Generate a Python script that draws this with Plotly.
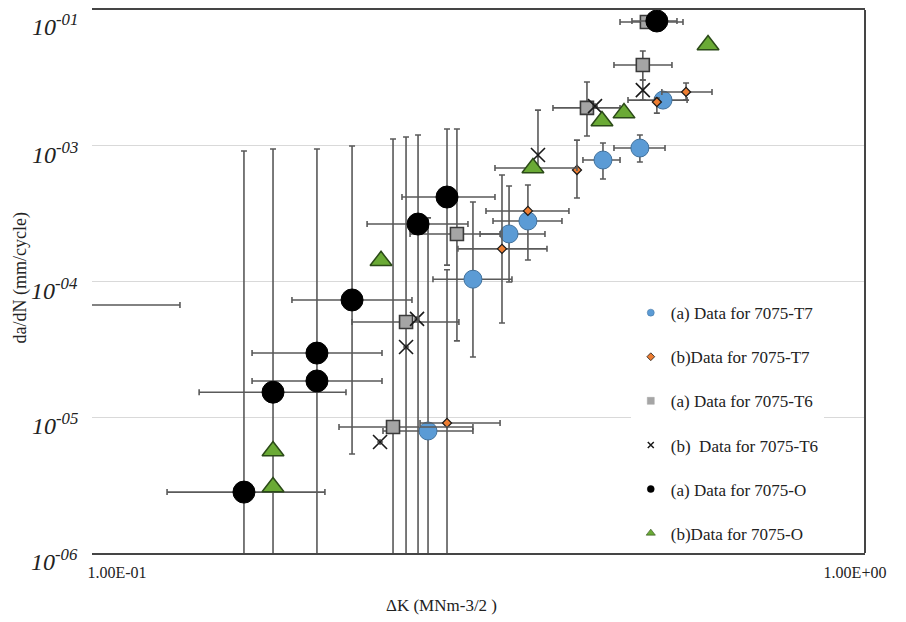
import math
import plotly.graph_objects as go

# ---------------- data ----------------
# (a) Data for 7075-T7
t7a_x    = [0.2639, 0.3036, 0.3398, 0.3604, 0.4555, 0.5111, 0.5494]
t7a_y    = [7.92e-6, 1.04e-4, 2.24e-4, 2.79e-4, 7.85e-4, 9.62e-4, 2.17e-3]
t7a_x_lo = [0.2293, 0.2680, 0.3104, 0.3232, 0.4279, 0.4714, 0.4925]
t7a_x_hi = [0.3036, 0.3429, 0.3801, 0.4008, 0.4804, 0.5528, 0.5922]
t7a_y_lo = [1e-7, 2.78e-5, 9.92e-5, 1.44e-4, 5.69e-4, 7.59e-4, None]
t7a_y_hi = [2.94e-4, 3.85e-4, 5.05e-4, 5.14e-4, 1.048e-3, 1.20e-3, None]

# (b) Data for 7075-T7
t7b_x    = [0.2800, 0.3324, 0.3604, 0.4200, 0.5389, 0.5903]
t7b_y    = [9.07e-6, 1.74e-4, 3.31e-4, 6.63e-4, 2.10e-3, 2.49e-3]
t7b_x_lo = [0.2574, 0.2897, 0.3162, None, None, 0.5474]
t7b_x_hi = [0.3304, 0.3825, 0.4096, None, None, 0.6401]
t7b_y_lo = [1e-7, 4.95e-5, None, 4.12e-4, 1.74e-3, 2.17e-3]
t7b_y_hi = [1.22e-4, 6.09e-4, None, 1.10e-3, 2.25e-3, 2.90e-3]

# (a) Data for 7075-T6
t6a_x    = [0.2366, 0.2464, 0.2888, 0.4333, 0.5158, 0.5224]
t6a_y    = [8.48e-6, 5.03e-5, 2.24e-4, 1.90e-3, 3.93e-3, 8.16e-3]
t6a_x_lo = [0.1999, 0.2082, 0.2495, 0.3897, 0.4714, 0.4804]
t6a_x_hi = [0.3036, 0.2906, 0.3304, 0.4804, 0.5649, 0.5847]
t6a_y_lo = [1e-7, 1e-7, 3.65e-5, 1.18e-3, 3.05e-3, None]
t6a_y_hi = [1.12e-3, 1.16e-3, 1.33e-3, 2.95e-3, 4.99e-3, None]

# (b) Data for 7075-T6
t6b_x    = [0.2272, 0.2464, 0.2550, 0.3719, 0.4443, 0.5158]
t6b_y    = [6.57e-6, 3.29e-5, 5.30e-5, 8.55e-4, 1.96e-3, 2.57e-3]
t6b_x_lo = [None] * 6
t6b_x_hi = [None] * 6
t6b_y_lo = [None, None, None, 6.86e-4, None, 2.17e-3]
t6b_y_hi = [None, None, None, 1.83e-3, None, 3.05e-3]

# (a) Data for 7075-O
oa_x    = [0.085, 0.1486, 0.1627, 0.1866, 0.1866, 0.2082, 0.2558, 0.2800, 0.5389]
oa_y    = [6.71e-5, 2.81e-6, 1.53e-5, 1.85e-5, 2.97e-5, 7.31e-5, 2.65e-4, 4.19e-4, 8.30e-3]
oa_x_lo = [0.085, 0.1169, 0.1292, 0.1524, 0.1524, 0.1726, 0.2182, 0.2433, 0.4986]
oa_x_hi = [0.1217, 0.1913, 0.2043, 0.2286, 0.2286, 0.2510, 0.2989, 0.3252, 0.5738]
oa_y_lo = [None, 1e-7, 1e-7, 1e-7, None, 5.36e-6, 1e-7, 1.32e-4, None]
oa_y_hi = [None, 9.15e-4, 9.46e-4, 9.46e-4, None, 9.96e-4, 1.20e-3, 1.33e-3, None]

# (b) Data for 7075-O
ob_x    = [0.1627, 0.1627, 0.2279, 0.3661, 0.4541, 0.4864, 0.6322]
ob_y    = [3.06e-6, 5.64e-6, 1.42e-4, 6.86e-4, 1.52e-3, 1.74e-3, 5.52e-3]
ob_x_lo = [None, None, None, 0.3252, None, None, None]
ob_x_hi = [None, None, None, 0.4200, None, None, None]
ob_y_lo = [None] * 7
ob_y_hi = [None] * 7

y_tickvals = [1e-6, 1e-5, 1e-4, 1e-3, 1e-2]
y_ticktext = ["10<sup>-06</sup>", "10<sup>-05</sup>", "10<sup>-04</sup>",
              "10<sup>-03</sup>", "10<sup>-01</sup>"]
x_tickvals = [0.1, 1.0]
x_ticktext = ["1.00E-01", "1.00E+00"]

series_names = ["(a) Data for 7075-T7", "(b)Data for 7075-T7", "(a) Data for 7075-T6",
                "(b)  Data for 7075-T6", "(a) Data for 7075-O", "(b)Data for 7075-O"]

# ---------------- helpers ----------------
def plus(v, hi):
    return [None if h is None else h - a for a, h in zip(v, hi)]

def minus(v, lo):
    return [None if l is None else a - l for a, l in zip(v, lo)]

ERR_COL = "#5a5a5a"

def err(v, lo, hi):
    return dict(type="data", symmetric=False, array=plus(v, hi), arrayminus=minus(v, lo),
                color=ERR_COL, thickness=1.6, width=3)

styles = [
    dict(symbol="circle", size=18, color="#5b9bd5", line=dict(color="#41719c", width=1)),
    dict(symbol="diamond", size=7, color="#ed7d31", line=dict(color="#1a1a1a", width=1.2)),
    dict(symbol="square", size=13, color="#a5a5a5", line=dict(color="#3a3a3a", width=1.6)),
    dict(symbol="x-thin-open", size=14, color="#1a1a1a", line=dict(color="#1a1a1a", width=1.6)),
    dict(symbol="circle", size=22, color="#000000", line=dict(color="#000000", width=1)),
    dict(symbol="triangle-up", size=19, color="#6aaa35", line=dict(color="#2b4a18", width=1.5)),
]
legend_styles = [
    dict(symbol="circle", size=7, color="#5b9bd5", line=dict(color="#41719c", width=0.5)),
    dict(symbol="diamond", size=6, color="#ed7d31", line=dict(color="#1a1a1a", width=0.8)),
    dict(symbol="square", size=7, color="#a5a5a5", line=dict(color="#a5a5a5", width=0.5)),
    dict(symbol="x-thin-open", size=6, color="#1a1a1a", line=dict(color="#1a1a1a", width=1.5)),
    dict(symbol="circle", size=7, color="#000000", line=dict(color="#000000", width=0.5)),
    dict(symbol="triangle-up", size=8, color="#6aaa35", line=dict(color="#2b4a18", width=0.6)),
]

data_sets = [
    (t7a_x, t7a_y, t7a_x_lo, t7a_x_hi, t7a_y_lo, t7a_y_hi),
    (t7b_x, t7b_y, t7b_x_lo, t7b_x_hi, t7b_y_lo, t7b_y_hi),
    (t6a_x, t6a_y, t6a_x_lo, t6a_x_hi, t6a_y_lo, t6a_y_hi),
    (t6b_x, t6b_y, t6b_x_lo, t6b_x_hi, t6b_y_lo, t6b_y_hi),
    (oa_x, oa_y, oa_x_lo, oa_x_hi, oa_y_lo, oa_y_hi),
    (ob_x, ob_y, ob_x_lo, ob_x_hi, ob_y_lo, ob_y_hi),
]

fig = go.Figure()
for name, (x, y, xl, xh, yl, yh), st in zip(series_names, data_sets, styles):
    fig.add_trace(go.Scatter(
        x=x, y=y, mode="markers", name=name, showlegend=False,
        marker=st, error_x=err(x, xl, xh), error_y=err(y, yl, yh),
    ))

for i, (name, st) in enumerate(zip(series_names, legend_styles)):
    fig.add_trace(go.Scatter(
        x=[None], y=[None], mode="markers", name=name, marker=st,
        legendgroup="g%d" % i, showlegend=True,
    ))

SERIF = "Liberation Serif, Times New Roman, serif"
TXT = "#222222"

# y tick labels as annotations (sit slightly below their gridlines, as in the reference)
tick_annots = []
for v, t in zip(y_tickvals, y_ticktext):
    top = v == y_tickvals[-1]
    tick_annots.append(dict(
        text="<i>" + t + "</i>", xref="paper", yref="y", x=-0.0155, y=math.log10(v),
        xanchor="right", yanchor="top" if top else "middle",
        yshift=2 if top else -7, showarrow=False,
        font=dict(family=SERIF, size=24, color=TXT)))

fig.update_layout(
    width=906, height=622,
    margin=dict(l=84, r=49, t=2, b=77),
    paper_bgcolor="white", plot_bgcolor="white",
    font=dict(family=SERIF, color=TXT),
    showlegend=True,
    legend=dict(x=0.697, y=0.475, xanchor="left", yanchor="top",
                bgcolor="white", borderwidth=0,
                font=dict(family=SERIF, size=17, color=TXT),
                tracegroupgap=19, itemwidth=30),
    xaxis=dict(type="log", range=[-1.0339, 0.01355],
               tickvals=x_tickvals, ticktext=x_ticktext,
               tickfont=dict(family=SERIF, size=16, color=TXT),
               showgrid=False, zeroline=False,
               showline=True, linecolor="#454545", linewidth=2, mirror=True,
               ticks="", automargin=False, ticklabelstandoff=4),
    yaxis=dict(type="log", range=[-6, -2],
               tickvals=y_tickvals, showticklabels=False,
               showgrid=True, gridcolor="#d9d9d9", gridwidth=1,
               zeroline=False, showline=False, ticks="",
               automargin=False),
    shapes=[dict(type="line", xref="paper", yref="paper", x0=1, x1=1, y0=0, y1=1,
                 line=dict(color="#454545", width=2))],
    annotations=tick_annots + [
        dict(text="ΔK (MNm-3/2 )", xref="paper", yref="paper", x=0.4515, y=-0.0958,
             showarrow=False, xanchor="center", yanchor="middle",
             font=dict(family=SERIF, size=17, color=TXT)),
        dict(text="da/dN (mm/cycle)", xref="paper", yref="paper", x=-0.0925, y=0.5064,
             showarrow=False, xanchor="center", yanchor="middle", textangle=-90,
             font=dict(family=SERIF, size=18, color=TXT)),
    ],
)

fig.write_html("out.html")
